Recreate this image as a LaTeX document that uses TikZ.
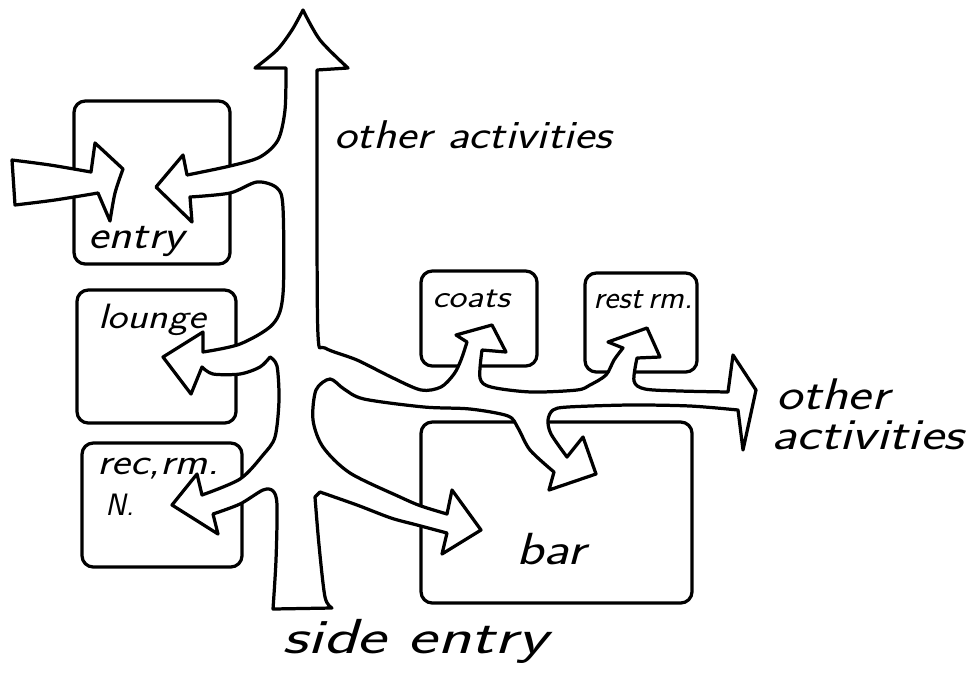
\documentclass[tikz,border=0pt]{standalone}
\usepackage{graphicx}
\tikzset{
  ink/.style={line width=2.3pt, line join=round, line cap=round},
  room/.style={ink, rounded corners=8pt},
  flow/.style={ink, fill=white},
  lbl/.style={inner sep=0pt, anchor=base west, font=\sffamily\slshape},
}
\newcommand{\hand}[3]{\fontsize{#1}{#1}\selectfont\scalebox{#2}[1]{#3}}
\begin{document}
\begin{tikzpicture}[x=0.025cm, y=-0.025cm]
\useasboundingbox (0,0) rectangle (972,679);
% rooms
\draw[room] (74,101) rectangle (230,264);
\draw[room] (77,290) rectangle (236,423);
\draw[room] (82,443) rectangle (242,567);
\draw[room] (421,271) rectangle (537,366);
\draw[room] (585,273) rectangle (697,372);
\draw[room] (421,422) rectangle (692,603);
% main circulation network (one outline)
\draw[flow] (273,609) -- (332,608)
 -- plot[smooth] coordinates {(332,608) (325,597) (319,545) (315,497)}
 -- (320,492)
 -- plot[smooth] coordinates {(320,492) (357,505) (391,518) (417,525) (447,533)}
 -- (442,554) -- (481,530) -- (452,490) -- (447,514)
 -- plot[smooth] coordinates {(447,514) (421,506) (400,497) (350,473) (323,447) (313,420) (316,390) (330,379) (344,389) (364,399) (424,407) (470,409) (508,416) (518,428) (530,450) (554,472)}
 -- (549,490) -- (596,474) -- (583,437) -- (567,457)
 -- plot[smooth] coordinates {(567,457) (551,434) (548,420) (553,410) (568,407) (630,405) (690,406) (738,410)}
 -- (743,450) -- (756,390) -- (733,355) -- (728,392)
 -- plot[smooth] coordinates {(728,392) (680,391) (645,389) (634,381) (637,358)}
 -- (660,357) -- (647,328) -- (608,342) -- (623,348)
 -- plot[smooth] coordinates {(623,348) (614,360) (606,375) (590,385) (577,390) (531,392) (491,387) (480,378) (482,350)}
 -- (506,352) -- (492,325) -- (456,335) -- (467,342)
 -- plot[smooth] coordinates {(467,342) (461,360) (454,374) (441,387) (421,390) (391,377) (357,360) (325,348) (318,335) (317,200) (317,70)}
 -- (348,68)
 -- plot[smooth] coordinates {(348,68) (320,40) (303,10)}
 -- plot[smooth] coordinates {(303,10) (292,30) (277,50) (255,68)}
 -- (286,68)
 -- plot[smooth] coordinates {(286,68) (285,110) (278,140) (260,157) (230,166) (187,175)}
 -- (183,155) -- (156,187) -- (192,222) -- (190,197)
 -- plot[smooth] coordinates {(190,197) (230,193) (257,182) (277,188) (283,208) (283,294) (273,324) (240,344) (203,352)}
 -- (203,332) -- (163,357) -- (191,394) -- (202,367)
 -- plot[smooth] coordinates {(202,367) (213,374) (240,374) (260,367) (270,357)}
 -- plot[smooth] coordinates {(270,357) (277,366) (279,400) (275,437) (263,455) (240,479) (202,495)}
 -- (197,474) -- (172,505) -- (218,534) -- (213,514)
 -- plot[smooth] coordinates {(213,514) (240,504) (263,490) (273,491) (277,505) (276,560) (273,609)}
 -- cycle;
% outside entry arrow
\draw[flow] (12,160) -- plot[smooth] coordinates {(12,160) (50,165) (91,172)}
 -- (95,143) -- (123,169)
 -- plot[smooth] coordinates {(123,169) (115,193) (110,221)}
 -- (98,193)
 -- plot[smooth] coordinates {(98,193) (55,200) (15,205)} -- cycle;
% labels
\node[lbl] (tOther) at (334,148) {\hand{28.5}{1.2}{other activities}};
\node[lbl] (tEntry) at (88,248) {\hand{28.5}{1.2}{entry}};
\node[lbl] (tLounge) at (98,328) {\hand{25}{1.2}{lounge}};
\node[lbl] (tRec) at (97,474) {\hand{26.4}{1.2}{rec,rm.}};
\node[lbl] (tN) at (105,515) {\hand{22}{1}{N.}};
\node[lbl] (tCoats) at (432,307) {\hand{22.5}{1.2}{coats}};
\node[lbl] (tRest) at (593,308) {\hand{23}{1.05}{rest\,rm.}};
\node[lbl] (tOther2) at (776,409) {\hand{31.5}{1.25}{other}};
\node[lbl] (tAct2) at (771,449) {\hand{31.5}{1.27}{activities}};
\node[lbl] (tBar) at (516,564) {\hand{32}{1.25}{bar}};
\node[lbl] (tSide) at (282,653) {\hand{35}{1.42}{side entry}};
\end{tikzpicture}
\end{document}
